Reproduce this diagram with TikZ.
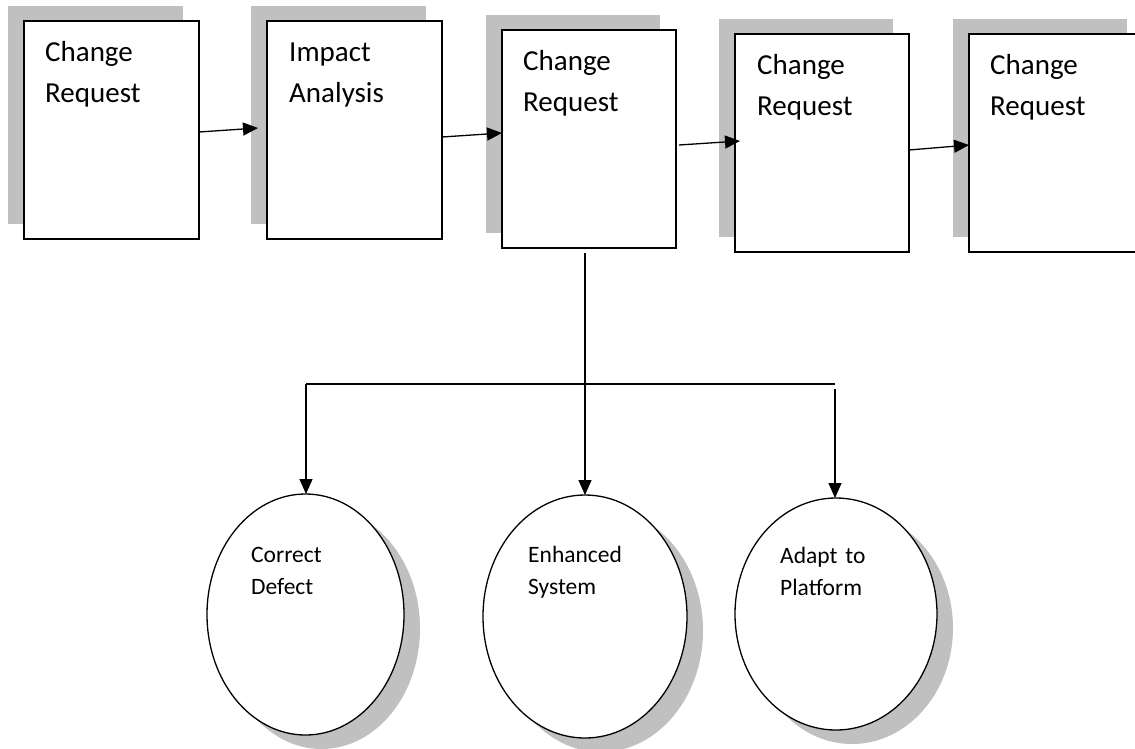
\documentclass[tikz,border=0pt]{standalone}
\usepackage{fontspec}
\setmainfont{Carlito}
\usetikzlibrary{arrows.meta,calc,shapes.geometric,shadows}
\definecolor{shadowgray}{RGB}{192,192,192}
\tikzset{
  stepbox/.style={draw, line width=1.3pt, fill=white, rectangle, inner sep=0pt, outer sep=0pt,
    minimum width=175pt, minimum height=218pt, anchor=north west,
    drop shadow={shadow xshift=-16pt, shadow yshift=15pt, fill=shadowgray, opacity=1, draw=none}},
  kindoval/.style={draw, line width=1.3pt, fill=white, ellipse, inner sep=0pt, outer sep=0pt,
    drop shadow={shadow xshift=16pt, shadow yshift=-14pt, fill=shadowgray, opacity=1, draw=none}},
  boxtext/.style={inner sep=0pt, anchor=base west, text width=150pt, align=left,
    font=\fontsize{29}{41}\selectfont},
  ovaltext/.style={inner sep=0pt, anchor=base west, text width=120pt, align=left,
    font=\fontsize{23.5}{32.5}\selectfont},
  flow/.style={line width=1.3pt, -{Triangle[length=15pt,width=13pt]}},
  wire/.style={line width=1.3pt}
}
\begin{document}
\begin{tikzpicture}[x=1pt,y=-1pt]
  \clip (0,0) rectangle (1135,748);
  \fill[white] (0,0) rectangle (1135,748);

  % process boxes
  \node[stepbox] (b1) at (24,21) {};
  \node[stepbox] (b2) at (267,21) {};
  \node[stepbox, minimum width=174pt] (b3) at (502,30) {};
  \node[stepbox, minimum width=174pt] (b4) at (735,34) {};
  \node[stepbox, minimum width=174pt] (b5) at (969,34) {};

  \node[boxtext] (t1) at ($(b1.north west)+(21,40)$) {Change\\Request};
  \node[boxtext] (t2) at ($(b2.north west)+(22,40)$) {Impact\\Analysis};
  \node[boxtext] (t3) at ($(b3.north west)+(21,40)$) {Change\\Request};
  \node[boxtext] (t4) at ($(b4.north west)+(22,40)$) {Change\\Request};
  \node[boxtext] (t5) at ($(b5.north west)+(21,40)$) {Change\\Request};

  % kinds of change
  \node[kindoval, minimum width=197pt, minimum height=241pt] (e1) at (305.5,614.5) {};
  \node[kindoval, minimum width=204pt, minimum height=243pt] (e2) at (585,616.5) {};
  \node[kindoval, minimum width=202pt, minimum height=232pt] (e3) at (836,614) {};

  \node[ovaltext] (o1) at ($(e1.west |- e1.north)+(44,68)$) {Correct\\Defect};
  \node[ovaltext] (o2) at ($(e2.west |- e2.north)+(45,67)$) {Enhanced\\System};
  \node[ovaltext] (o3) at ($(e3.west |- e3.north)+(45,65)$) {Adapt to\\Platform};

  % flow between boxes
  \draw[flow] ($(b1.north east)+(0,111)$) -- ($(b2.north west)+(-9,107)$);
  \draw[flow] ($(b2.north east)+(0,116)$) -- ($(b3.north west)+(0,103)$);
  \draw[flow] ($(b3.north east)+(3,115)$) -- ($(b4.north west)+(5,107)$);
  \draw[flow] ($(b4.north east)+(0,116)$) -- ($(b5.north west)+(0,111)$);

  % branching to the three kinds of change
  \coordinate (top) at (585,253);
  \coordinate (lt) at (306,384);
  \coordinate (rt) at (835,384);
  \draw[wire] (lt) -- (rt);
  \draw[flow] (top) -- (e2.north);
  \draw[flow] (lt) -- (lt |- e1.north);
  \draw[flow] ($(rt)+(0,5)$) -- (rt |- e3.north);
\end{tikzpicture}
\end{document}
